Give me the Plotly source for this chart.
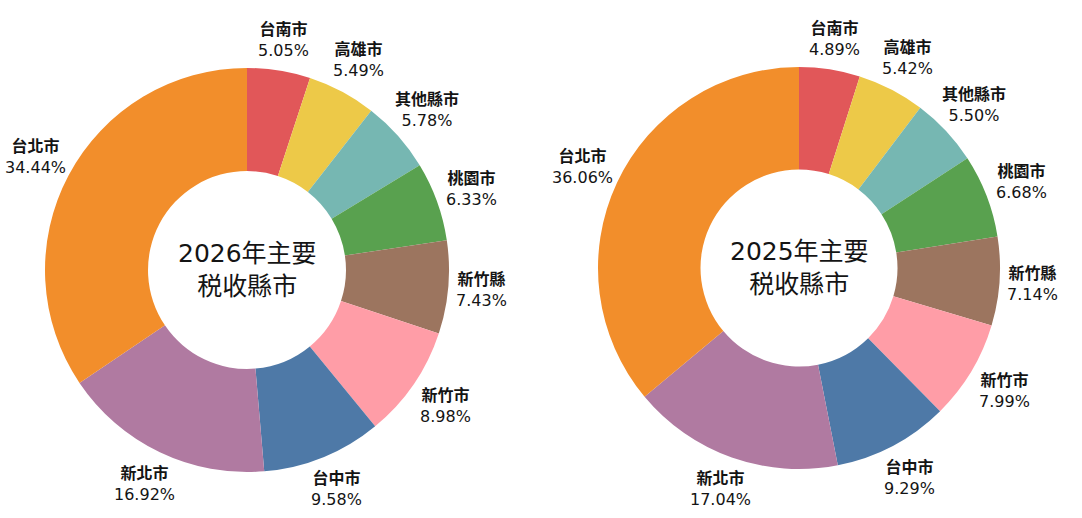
import numpy as np
import plotly.graph_objects as go

# 縣市順序(順時針,從12點鐘方向開始)
cities = ["台南市", "高雄市", "其他縣市", "桃園市", "新竹縣", "新竹市", "台中市", "新北市", "台北市"]
share_2026 = [5.05, 5.49, 5.78, 6.33, 7.43, 8.98, 9.58, 16.92, 34.44]
share_2025 = [4.89, 5.42, 5.50, 6.68, 7.14, 7.99, 9.29, 17.04, 36.06]
colors = ["#E15759", "#EDC948", "#76B7B2", "#59A14F", "#9C755F",
          "#FF9DA7", "#4E79A7", "#B07AA1", "#F28E2B"]

W, H = 1082, 518
TEXT = "#141414"
FONT = "DejaVu Sans, Noto Sans CJK TC"


def add_donut(fig, values, cx, cy, r, title):
    """Donut centred at pixel (cx, cy) with radius r, plus labels outside."""
    fig.add_trace(go.Pie(
        labels=cities, values=values, sort=False, direction="clockwise",
        rotation=0, hole=0.49,
        domain=dict(x=[(cx - r) / W, (cx + r) / W], y=[1 - (cy + r) / H, 1 - (cy - r) / H]),
        marker=dict(colors=colors, line=dict(width=0)),
        textinfo="none", showlegend=False, hoverinfo="label+value",
    ))

    # Labels sit on the slice mid-angle, with the label box just clear of the ring.
    vals = np.array(values, dtype=float)
    mids = (np.cumsum(vals) - vals / 2) / vals.sum() * 2 * np.pi
    for name, v, a in zip(cities, values, mids):
        dist = r + 8 + 19 * abs(np.cos(a)) + 24 * abs(np.sin(a))
        fig.add_annotation(
            x=(cx + dist * np.sin(a)) / W, y=1 - (cy - dist * np.cos(a)) / H,
            xref="paper", yref="paper", xanchor="center", yanchor="middle",
            text=f"<b>{name}</b><br>{v:.2f}%", showarrow=False,
            font=dict(family=FONT, size=16, color=TEXT),
        )

    fig.add_annotation(x=cx / W, y=1 - cy / H, xref="paper", yref="paper",
                       xanchor="center", yanchor="middle", text=title,
                       showarrow=False, font=dict(family=FONT, size=25, color=TEXT))


fig = go.Figure()
add_donut(fig, share_2026, 247, 270, 202, "2026年主要<br>税收縣市")
add_donut(fig, share_2025, 799, 268, 201, "2025年主要<br>税收縣市")

fig.update_layout(width=W, height=H, margin=dict(l=0, r=0, t=0, b=0),
                  paper_bgcolor="white", plot_bgcolor="white")

fig.write_html("out.html", config={"displayModeBar": False},
               post_script="document.body.style.margin='0';")
